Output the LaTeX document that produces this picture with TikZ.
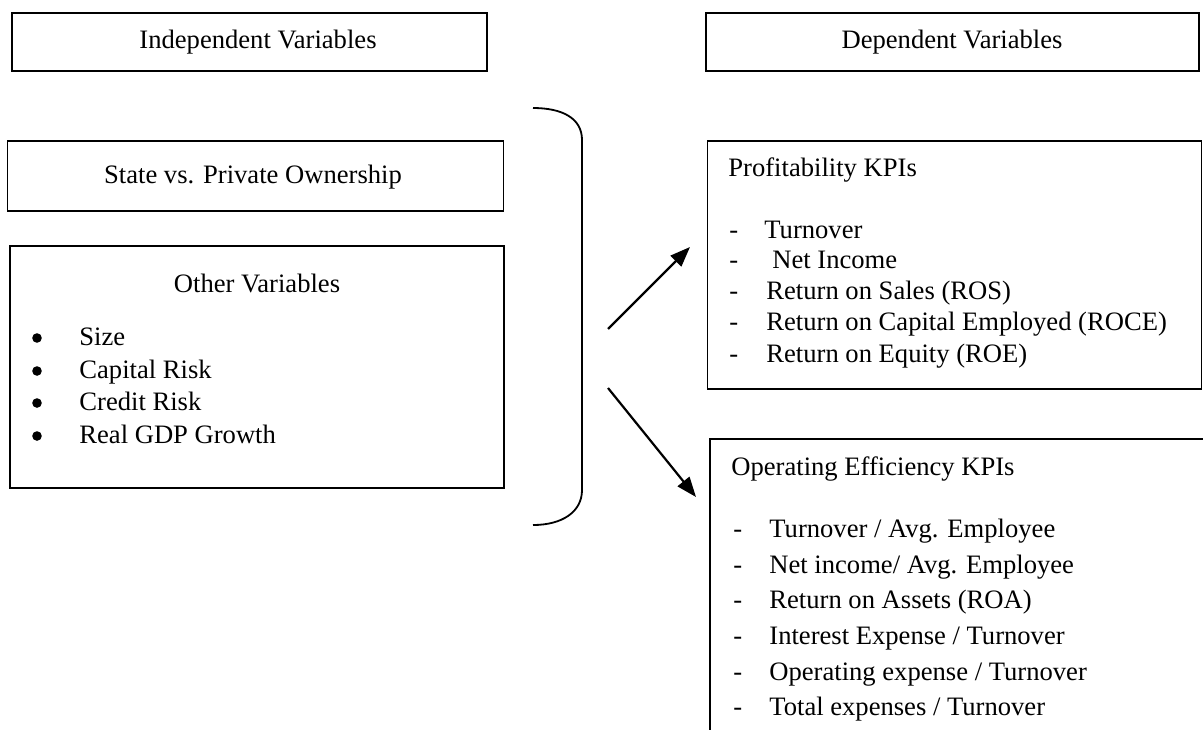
\documentclass[tikz,border=0pt]{standalone}
\usepackage{fontspec}
\setmainfont{Liberation Serif}
\usetikzlibrary{arrows.meta}
\begin{document}
\begin{tikzpicture}[x=0.5pt,y=-0.5pt,
  box/.style={draw=black,line width=0.85pt,rectangle,inner sep=0pt},
  txt/.style={anchor=base west,inner sep=0pt,font=\fontsize{13.3}{15}\selectfont},
  ctxt/.style={anchor=base,inner sep=0pt,font=\fontsize{13.3}{15}\selectfont},
  arr/.style={line width=1.1pt,-{Triangle[length=10pt,width=7.5pt]}},
  brace/.style={line width=0.9pt}]
\useasboundingbox (0,0) rectangle (1203,729);
\clip (0,0) rectangle (1203,729);
% boxes
\node[box,minimum width=475*0.5pt,minimum height=58*0.5pt] (indep) at (249.5,42) {};
\node[box,minimum width=493*0.5pt,minimum height=58*0.5pt] (dep) at (952.5,42) {};
\node[box,minimum width=496*0.5pt,minimum height=70*0.5pt] (state) at (255.5,176) {};
\node[box,minimum width=494*0.5pt,minimum height=242*0.5pt] (other) at (257,367) {};
\node[box,minimum width=494*0.5pt,minimum height=248*0.5pt] (prof) at (954.5,265) {};
\node[box,minimum width=510*0.5pt,minimum height=310*0.5pt] (oper) at (965,594) {};
% titles
\node[ctxt] (tindep) at (258,48) {Independent Variables};
\node[ctxt] (tdep) at (952,48) {Dependent Variables};
\node[ctxt] (tstate) at (253,183) {State vs. Private Ownership};
\node[ctxt] (tother) at (257,292) {Other Variables};
\node[txt] (tprof) at (728,176) {Profitability KPIs};
\node[txt] (toper) at (731,475) {Operating Efficiency KPIs};
% other variables bullets
\foreach \y/\t [count=\i] in {345/{Size},378/{Capital Risk},410/{Credit Risk},443/{Real GDP Growth}}{
  \fill (37,\y-7) circle (2.4pt);
  \node[txt] (ov\i) at (79,\y) {\t};
}
% profitability items
\foreach \y/\x/\t [count=\i] in {238/764/{Turnover},268/772/{Net Income},299/766/{Return on Sales (ROS)},330/766/{Return on Capital Employed (ROCE)},362/766/{Return on Equity (ROE)}}{
  \node[txt] (pd\i) at (729,\y) {-};
  \node[txt] (pi\i) at (\x,\y) {\t};
}
% operating items
\foreach \y/\t [count=\i] in {537/{Turnover / Avg. Employee},573/{Net income/ Avg. Employee},608/{Return on Assets (ROA)},644/{Interest Expense / Turnover},680/{Operating expense / Turnover},715/{Total expenses / Turnover}}{
  \node[txt] (od\i) at (733,\y) {-};
  \node[txt] (oi\i) at (769,\y) {\t};
}
% bracket
\coordinate (btop) at (533,108);
\coordinate (bbot) at (533,525);
\draw[brace] (btop) .. controls (562,108) and (582,118) .. (582,140) -- (582,490) .. controls (582,512) and (562,525) .. (bbot);
% arrows
\coordinate (a1s) at (608,329);
\coordinate (a1e) at (690,247);
\coordinate (a2s) at (608,388);
\coordinate (a2e) at (696,497);
\draw[arr] (a1s) -- (a1e);
\draw[arr] (a2s) -- (a2e);
\end{tikzpicture}
\end{document}
